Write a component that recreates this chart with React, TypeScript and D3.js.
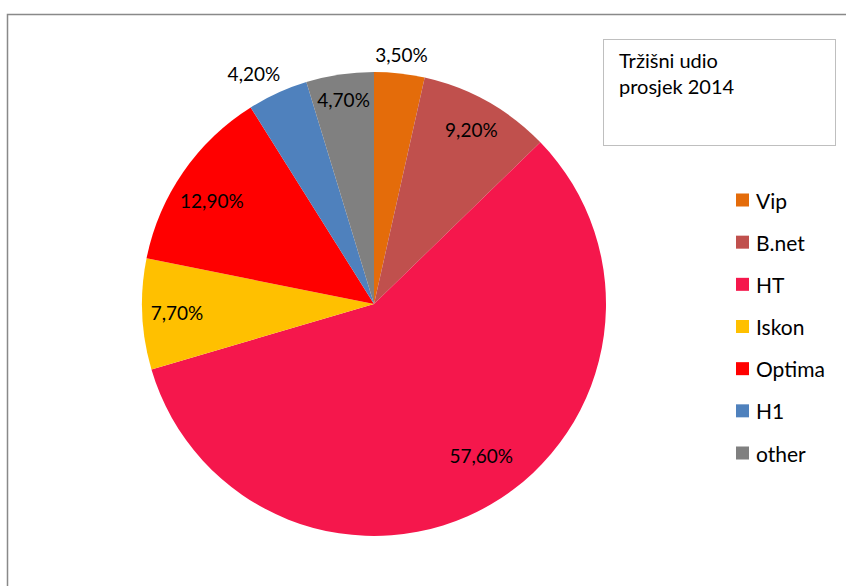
import * as React from "react";
import * as d3 from "d3";

const categories = ["Vip", "B.net", "HT", "Iskon", "Optima", "H1", "other"];
const shares = [3.5, 9.2, 57.6, 7.7, 12.9, 4.2, 4.7];
const colors = ["#E46C0A", "#C0504D", "#F5174C", "#FFC000", "#FF0000", "#4F81BD", "#808080"];
const titleLines = ["Tržišni udio", "prosjek 2014"];

// label placement tweaks (Excel "best fit"): fraction of radius, angle nudge in degrees
const labelRadius = [1.08, 0.86, 0.8, 0.85, 0.83, 1.12, 0.89];
const labelNudge = [0, 0, -5, 0, -2, -3, 0];

const W = 846;
const H = 586;
const font = "Lato, 'Open Sans', sans-serif";

export default function App() {
  const cx = 374;
  const cy = 304;
  const r = 232;

  const pie = d3
    .pie<number>()
    .sort(null)
    .value(d => d);
  const arcs = pie(shares);
  const arc = d3.arc<d3.PieArcDatum<number>>().innerRadius(0).outerRadius(r);

  const fmt = (v: number) => v.toFixed(2).replace(".", ",") + "%";

  const legendY = d3
    .scalePoint<string>()
    .domain(categories)
    .range([200, 453]);

  return (
    <svg
      width={W}
      height={H}
      style={{ position: "absolute", left: 0, top: 0, background: "#fff" }}
      fontFamily={font}
    >
      {/* chart border (runs off the right / bottom edges) */}
      <path d={`M7.5,${H + 2}V14.5H${W + 2}`} fill="none" stroke="#898989" strokeWidth={1.5} />

      <g transform={`translate(${cx},${cy})`}>
        {arcs.map((a, i) => (
          <path key={categories[i]} d={arc(a) as string} fill={colors[i]} />
        ))}
        {arcs.map((a, i) => {
          const mid = (a.startAngle + a.endAngle) / 2 + (labelNudge[i] * Math.PI) / 180;
          const lr = r * labelRadius[i];
          const x = Math.sin(mid) * lr;
          const y = -Math.cos(mid) * lr;
          return (
            <text
              key={"l" + categories[i]}
              x={x}
              y={y}
              textAnchor="middle"
              dominantBaseline="central"
              fontSize={19}
              fill="#000"
            >
              {fmt(a.data)}
            </text>
          );
        })}
      </g>

      {/* title box */}
      <rect x={603.5} y={39.5} width={232} height={106} fill="#fff" stroke="#BFBFBF" strokeWidth={1} />
      {titleLines.map((t, i) => (
        <text key={t} x={619} y={68 + i * 26} fontSize={20} fill="#000">
          {t}
        </text>
      ))}

      {/* legend */}
      {categories.map((c, i) => (
        <g key={"lg" + c} transform={`translate(736,${legendY(c)})`}>
          <rect x={0} y={-6.5} width={13} height={13} fill={colors[i]} />
          <text x={20} y={0} dominantBaseline="central" fontSize={21} fill="#000">
            {c}
          </text>
        </g>
      ))}
    </svg>
  );
}
